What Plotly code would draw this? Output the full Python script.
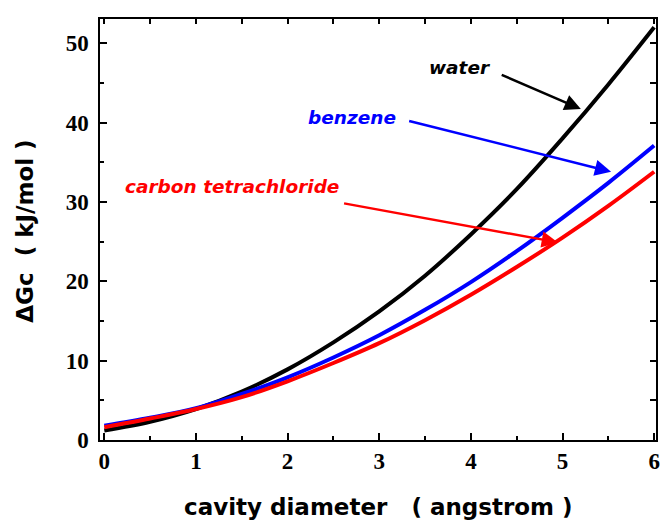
import plotly.graph_objects as go

diameter = [0, 0.5, 1, 1.5, 2, 2.5, 3, 3.5, 4, 4.5, 5, 5.5, 6]
water = [1.2, 2.3, 3.9, 6.1, 8.9, 12.3, 16.2, 20.7, 25.9, 31.6, 38.0, 44.8, 52.0]
benzene = [1.8, 2.8, 4.0, 5.8, 7.9, 10.4, 13.2, 16.4, 19.9, 23.8, 28.0, 32.4, 37.1]
ccl4 = [1.6, 2.7, 3.9, 5.4, 7.4, 9.7, 12.2, 15.1, 18.3, 21.8, 25.5, 29.5, 33.8]

x_ticks = [0, 1, 2, 3, 4, 5, 6]
y_ticks = [0, 10, 20, 30, 40, 50]

fig = go.Figure()
for vals, col in [(water, "#000000"), (benzene, "#0000ff"), (ccl4, "#ff0000")]:
    fig.add_trace(go.Scatter(x=diameter, y=vals, mode="lines",
                             line=dict(color=col, width=4, shape="spline", smoothing=1.0),
                             showlegend=False, hoverinfo="skip"))
# empty trace so the mirrored top/right tick axes are drawn
fig.add_trace(go.Scatter(x=[], y=[], xaxis="x2", yaxis="y2", showlegend=False))

label_font = dict(family="Comic Sans MS, DejaVu Sans", size=18.5, weight="bold", style="italic")
annotations = [
    dict(text="water", x=3.885, y=47.0, xref="x", yref="y", showarrow=False,
         font=dict(label_font, color="#000000")),
    dict(text="benzene", x=2.70, y=40.6, xref="x", yref="y", showarrow=False,
         font=dict(label_font, color="#0000ff")),
    dict(text="carbon tetrachloride", x=1.395, y=31.9, xref="x", yref="y", showarrow=False,
         font=dict(label_font, color="#ff0000")),
]
arrows = [
    ((4.32, 46.1), (5.20, 41.7), "#000000"),
    ((3.31, 40.25), (5.53, 33.8), "#0000ff"),
    ((2.60, 29.85), (4.95, 24.9), "#ff0000"),
]
for (ax, ay), (x, y), col in arrows:
    annotations.append(dict(text="", x=x, y=y, ax=ax, ay=ay, xref="x", yref="y",
                            axref="x", ayref="y", showarrow=True, arrowhead=2,
                            arrowsize=1.3, arrowwidth=2.5, arrowcolor=col, standoff=0))

title_font = dict(family="Comic Sans MS, DejaVu Sans", size=23, weight="bold", color="#000000")
annotations.append(dict(text="cavity diameter   ( angstrom )", x=0.5, y=-0.16,
                        xref="paper", yref="paper", showarrow=False, font=title_font,
                        xanchor="center", yanchor="middle"))
annotations.append(dict(text="ΔGc  ( kJ/mol )", x=-0.134, y=0.496, textangle=-90,
                        xref="paper", yref="paper", showarrow=False, font=title_font,
                        xanchor="center", yanchor="middle"))

tick_font = dict(family="Liberation Serif", size=23, weight="bold", color="#000000")
axis_common = dict(showline=True, linecolor="#000000", linewidth=1.5, mirror=True,
                   ticks="inside", ticklen=7, tickwidth=1.5, tickcolor="#000000",
                   showgrid=False, zeroline=False, tickfont=tick_font)
x_range = [-0.047, 6.02]
y_range = [0, 53.05]

fig.update_layout(
    width=662, height=523,
    margin=dict(l=100, r=2, t=19, b=83),
    paper_bgcolor="white", plot_bgcolor="white",
    xaxis=dict(axis_common, range=x_range, tickvals=x_ticks,
               minor=dict(ticks="inside", ticklen=4, tickwidth=1.5, dtick=0.5, tick0=0,
                          tickcolor="#000000")),
    yaxis=dict(axis_common, range=y_range, tickvals=y_ticks, ticklabelstandoff=5,
               minor=dict(ticks="inside", ticklen=4, tickwidth=1.5, dtick=5, tick0=0,
                          tickcolor="#000000")),
    xaxis2=dict(overlaying="x", side="top", anchor="y", range=x_range, dtick=0.5, tick0=0,
                ticks="inside", ticklen=5, tickwidth=1.5, tickcolor="#000000",
                showticklabels=False, showgrid=False, zeroline=False, showline=False),
    yaxis2=dict(overlaying="y", side="right", anchor="x", range=y_range, dtick=5, tick0=0,
                ticks="inside", ticklen=6, tickwidth=1.5, tickcolor="#000000",
                showticklabels=False, showgrid=False, zeroline=False, showline=False),
    annotations=annotations,
)

fig.write_html("out.html")
